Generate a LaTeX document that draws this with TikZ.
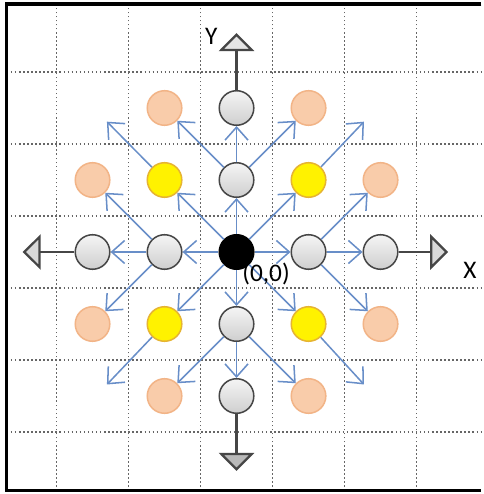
\documentclass[tikz,border=0pt]{standalone}
\usepackage{fontspec}
\setmainfont{Carlito}
\usetikzlibrary{arrows.meta}
\definecolor{arrowblue}{RGB}{104,142,200}
\definecolor{peach}{RGB}{249,204,170}
\definecolor{peachline}{RGB}{242,180,135}
\definecolor{yellowline}{RGB}{230,180,50}
\definecolor{axisgray}{RGB}{70,70,70}
\begin{document}
\begin{tikzpicture}[
    gridline/.style={black!60, densely dotted, line width=0.6pt},
    cell/.style={circle, minimum size=0.48cm, inner sep=0pt, line width=0.6pt},
    graycell/.style={cell, draw=axisgray, top color=gray!8, bottom color=gray!38},
    yellowcell/.style={cell, draw=yellowline, fill=yellow},
    peachcell/.style={cell, draw=peachline, fill=peach},
    origin/.style={cell, draw=black, fill=black},
    move/.style={arrowblue, line width=0.6pt, -{Straight Barb[length=1.8mm, width=3.2mm]}},
    axis/.style={axisgray, line width=0.9pt},
    lbl/.style={font=\fontsize{10}{12}\selectfont, inner sep=0pt}
  ]
      \fill[white] (-3.285,-3.361) rectangle (3.424,3.5);
      \useasboundingbox (-3.285,-3.361) rectangle (3.424,3.5);

      % Grid and frame
      \draw[gridline, shift={(0.5,0.5)}] (-3.69,-3.82) grid (2.9,2.94);
      \draw[line width=1.2pt] (3.40,3.444) -| (-3.19,-3.319) -- (3.40,-3.319);

      % Nodes
      \node[origin] at (0, 0) (o) {};
      \node[graycell] at (1, 0) (r1) {};
      \node[graycell] at (2, 0) (r2) {};
      \node[graycell] at (-1, 0) (l1) {};
      \node[graycell] at (-2, 0) (l2) {};
      \node[graycell] at (0, 1) (u1) {};
      \node[graycell] at (0, 2) (u2) {};
      \node[graycell] at (0, -1) (d1) {};
      \node[graycell] at (0, -2) (d2) {};
      \node[yellowcell] at (1, 1) (ur) {};
      \node[yellowcell] at (-1, 1) (ul) {};
      \node[yellowcell] at (1, -1) (dr) {};
      \node[yellowcell] at (-1, -1) (dl) {};
      \node[peachcell] at (-1, 2) (oa) {};
      \node[peachcell] at (1, 2) (ob) {};
      \node[peachcell] at (-2, 1) (oc) {};
      \node[peachcell] at (2, 1) (od) {};
      \node[peachcell] at (-2, -1) (oe) {};
      \node[peachcell] at (2, -1) (of) {};
      \node[peachcell] at (-1, -2) (og) {};
      \node[peachcell] at (1, -2) (oh) {};

      % Axis ends
      \coordinate (xend) at (2.94, 0);
      \coordinate (xstart) at (-2.97, 0);
      \coordinate (yend) at (0, 3.04);
      \coordinate (ystart) at (0, -3.04);
      \draw[axis, -{Triangle[length=2.5mm, width=4.9mm, fill=gray!30]}] (r2) -- (xend);
      \draw[axis, -{Triangle[length=2.5mm, width=4.9mm, fill=gray!30]}] (l2) -- (xstart);
      \draw[axis, -{Triangle[length=2.5mm, width=4.9mm, fill=gray!20]}] (u2) -- (yend);
      \draw[axis, -{Triangle[length=2.5mm, width=4.9mm, fill=gray!55]}] (d2) -- (ystart);

      % Free ends
      \coordinate (fur) at (1.77, 1.81);
      \coordinate (ful) at (-1.8, 1.81);
      \coordinate (fdr) at (1.77, -1.84);
      \coordinate (fdl) at (-1.8, -1.84);

      % Moves
      \draw[move] (o) -- (r1);
      \draw[move] (o) -- (l1);
      \draw[move] (o) -- (u1);
      \draw[move] (o) -- (d1);
      \draw[move] (o) -- (ur);
      \draw[move] (o) -- (ul);
      \draw[move] (o) -- (dr);
      \draw[move] (o) -- (dl);
      \draw[move] (r1) -- (r2);
      \draw[move] (l1) -- (l2);
      \draw[move] (u1) -- (u2);
      \draw[move] (d1) -- (d2);
      \draw[move] (u1) -- (oa);
      \draw[move] (u1) -- (ob);
      \draw[move] (l1) -- (oc);
      \draw[move] (r1) -- (od);
      \draw[move] (l1) -- (oe);
      \draw[move] (r1) -- (of);
      \draw[move] (d1) -- (og);
      \draw[move] (d1) -- (oh);
      \draw[move] (ur) -- (fur);
      \draw[move] (ul) -- (ful);
      \draw[move] (dr) -- (fdr);
      \draw[move] (dl) -- (fdl);

      % Labels
      \node[lbl] at (3.24, -0.25) (xlbl) {X};
      \node[lbl] at (-0.35, 2.99) (ylbl) {Y};
      \node[lbl] at (0.41, -0.31) (olbl) {(0,0)};
\end{tikzpicture}
\end{document}
